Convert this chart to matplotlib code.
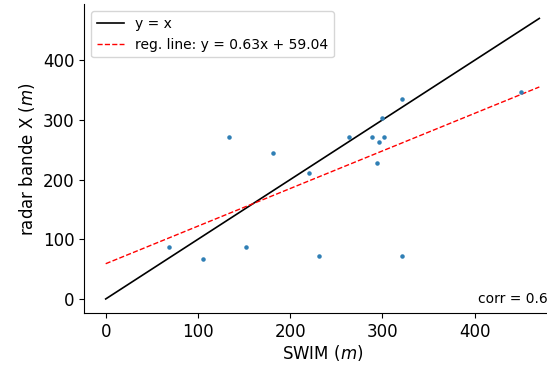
import matplotlib
matplotlib.use('Agg')
import matplotlib.pyplot as plt
import numpy as np

# valeurs
swim = [134, 181, 220, 264, 299, 321, 289, 302, 296, 294, 450, 69, 105, 152, 231, 321]
radar = [271, 245, 211, 271, 303, 335, 271, 271, 263, 228, 347, 87, 67, 87, 72, 72]
slope = 0.63
intercept = 59.04
x_line = [0, 470]

fig = plt.figure(figsize=(5.47, 3.65), dpi=100)
ax = fig.add_axes([0.1536, 0.1425, 0.872, 0.8455])

x_line = np.array(x_line)
ax.plot(x_line, x_line, color='black', lw=1.2, label='y = x')
ax.plot(x_line, slope * x_line + intercept, color='red', ls='--', lw=1,
        label=f'reg. line: y = {slope:.2f}x + {intercept:.2f}')
ax.scatter(swim, radar, s=5, color='#2f7fb5', zorder=3)

corr = np.corrcoef(swim, radar)[0, 1]
ax.text(0.99, 0.045, f'corr = {corr:.2f}', transform=ax.transAxes,
        ha='right', va='center', fontsize=10)

ax.set_xlim(-23.5, 493.5)
ax.set_ylim(-23.5, 493.5)
ax.set_xticks([0, 100, 200, 300, 400])
ax.set_yticks([0, 100, 200, 300, 400])
ax.tick_params(labelsize=12)
ax.spines['top'].set_visible(False)
ax.spines['right'].set_visible(False)
ax.set_xlabel('SWIM ($m$)', fontsize=12, labelpad=2)
ax.set_ylabel('radar bande X ($m$)', fontsize=12)
ax.legend(loc='upper left', fontsize=10)

fig.savefig('out.png', dpi=100)
